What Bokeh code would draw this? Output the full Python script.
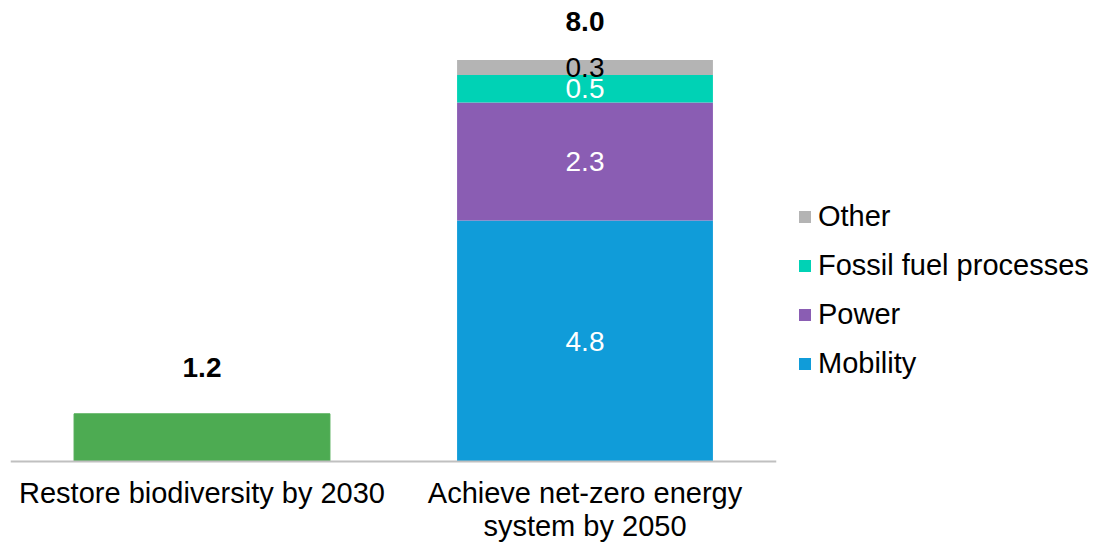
from bokeh.plotting import figure
from bokeh.models import FactorRange, Range1d, Legend, LegendItem, ColumnDataSource, Span
from bokeh.core.properties import value
from bokeh.embed import file_html
from bokeh.resources import INLINE

categories = ["Restore biodiversity by 2030", "Achieve net-zero energy system by 2050"]
category_labels = ["Restore biodiversity by 2030", "Achieve net-zero energy\nsystem by 2050"]

# Biodiversity bar (drawn height) and its printed total
biodiversity_value = [0.95]
biodiversity_label = ["1.2"]

# Energy system stacked segments (bottom to top)
series_names = ["Mobility", "Power", "Fossil fuel processes", "Other"]
series_values = [4.8, 2.35, 0.55, 0.3]
series_labels = ["4.8", "2.3", "0.5", "0.3"]
energy_total_label = ["8.0"]

colors = ["#109CD9", "#8A5DB3", "#00D2B5", "#B4B4B4"]
label_colors = ["white", "white", "white", "black"]
green = "#4DAB52"

FONT = "Liberation Sans"

p = figure(x_range=FactorRange(factors=categories, range_padding=0),
           y_range=Range1d(-1.653, 9.183),
           width=1095, height=544, frame_width=766, frame_height=544,
           min_border_left=10, min_border_top=0, min_border_bottom=0, min_border_right=319,
           output_backend="svg", toolbar_location=None)

# baseline
p.add_layout(Span(location=0, dimension="width", line_color="#C0C0C0", line_width=2))

# green bar
src_g = ColumnDataSource(dict(x=[categories[0]], top=biodiversity_value, lab=biodiversity_label))
p.vbar(x="x", top="top", width=0.668, color=green, source=src_g)
p.text(x="x", y="top", text="lab", source=src_g, text_align="center", text_baseline="middle",
       y_offset=-46, text_font=value(FONT), text_font_size="28px", text_font_style="bold",
       text_color="black")

# stacked bars
stack_data = {"x": [categories[1]]}
for n, v in zip(series_names, series_values):
    stack_data[n] = [v]
src_s = ColumnDataSource(stack_data)
renderers = p.vbar_stack(series_names, x="x", width=0.668, color=colors, source=src_s,
                         line_color=None)

# segment labels
bottoms = []
acc = 0
for v in series_values:
    bottoms.append(acc)
    acc += v
mids = [b + v / 2 for b, v in zip(bottoms, series_values)]
src_l = ColumnDataSource(dict(x=[categories[1]] * len(mids), y=mids, t=series_labels, c=label_colors))
p.text(x="x", y="y", text="t", text_color="c", source=src_l, text_align="center",
       text_baseline="middle", text_font=value(FONT), text_font_size="28px")

src_t = ColumnDataSource(dict(x=[categories[1]], y=[acc], t=energy_total_label))
p.text(x="x", y="y", text="t", source=src_t, text_align="center", text_baseline="middle",
       y_offset=-38, text_font=value(FONT), text_font_size="28px", text_font_style="bold",
       text_color="black")

# category labels
src_c = ColumnDataSource(dict(x=categories, y=[0] * len(categories), t=category_labels))
p.text(x="x", y="y", text="t", source=src_c, text_align="center", text_baseline="top",
       y_offset=15, text_font=value(FONT), text_font_size="29px", text_line_height=1.04,
       text_color="black")

# axes
p.xaxis.visible = False
p.yaxis.visible = False
p.xgrid.visible = False
p.ygrid.visible = False
p.outline_line_color = None

# legend
items = [LegendItem(label=n, renderers=[r]) for n, r in zip(series_names, renderers)][::-1]
legend = Legend(items=items, location=(21, 164), border_line_color=None, background_fill_alpha=0,
                label_text_font=FONT, label_text_font_size="29px", label_text_color="black",
                glyph_width=15, glyph_height=15, label_standoff=6, spacing=16,
                padding=0, margin=0, label_height=33)
p.add_layout(legend, "right")

open("out.html", "w").write(file_html(p, INLINE))
